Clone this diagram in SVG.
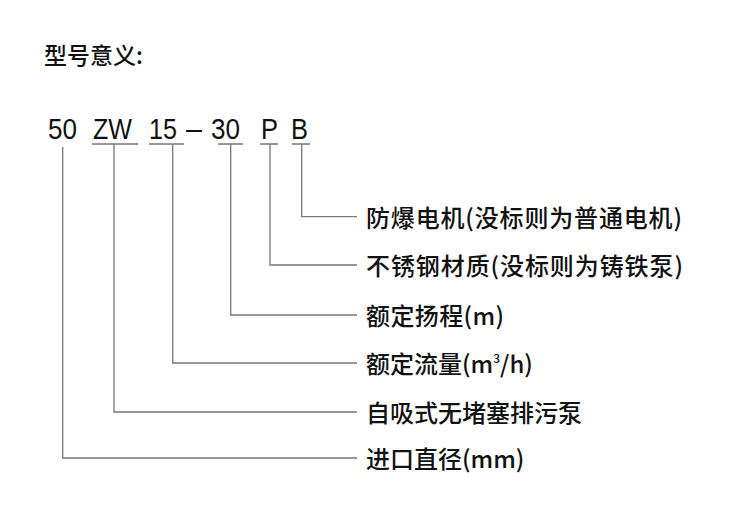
<svg xmlns="http://www.w3.org/2000/svg" width="750" height="528" viewBox="0 0 750 528">
<style>
.t{font-family:"Noto Sans CJK SC","Noto Sans",sans-serif;fill:#111;font-weight:500;}
.lab{font-size:24px;}
.code{font-family:"Liberation Sans",Arial,sans-serif;font-size:29px;fill:#111;}
.ln{fill:none;stroke:#777;stroke-width:1.3;}
</style>
<rect width="750" height="528" fill="#fff"/>
<text class="t" x="44" y="64" font-size="23" font-weight="400">型号意义:</text>
<g id="code">
<text class="code" x="48" y="139" textLength="29" lengthAdjust="spacingAndGlyphs">50</text>
<text class="code" x="93" y="139" textLength="39" lengthAdjust="spacingAndGlyphs">ZW</text>
<text class="code" x="149" y="139" textLength="28" lengthAdjust="spacingAndGlyphs">15</text>
<text class="code" x="186" y="139" textLength="16" lengthAdjust="spacingAndGlyphs">–</text>
<text class="code" x="211" y="139" textLength="29" lengthAdjust="spacingAndGlyphs">30</text>
<text class="code" x="261" y="139" textLength="17" lengthAdjust="spacingAndGlyphs">P</text>
<text class="code" x="291" y="139" textLength="17" lengthAdjust="spacingAndGlyphs">B</text>
</g>
<g id="connectors">
<path class="ln" d="M92 144H138M149 144H184M218 144H243M260 144H278M292 144H310"/>
<path class="ln" d="M301.7 144V216.7H357"/>
<path class="ln" d="M270 144V265H357"/>
<path class="ln" d="M230.7 144V315H357"/>
<path class="ln" d="M172.7 144V363H357"/>
<path class="ln" d="M114 144V412H357"/>
<path class="ln" d="M62.7 147V458H357"/>
</g>
<g id="n-explosion"><text class="t lab" x="366" y="227" textLength="316" lengthAdjust="spacing">防爆电机(没标则为普通电机)</text></g>
<g id="n-material"><text class="t lab" x="366" y="275" textLength="317" lengthAdjust="spacing">不锈钢材质(没标则为铸铁泵)</text></g>
<g id="n-head"><text class="t lab" x="366" y="325" textLength="138" lengthAdjust="spacing">额定扬程(m)</text></g>
<g id="n-flow"><text class="t lab" x="366" y="373">额定流量(m<tspan font-size="12" dy="-10">3</tspan><tspan dy="10">/h)</tspan></text></g>
<g id="n-type"><text class="t lab" x="366" y="422">自吸式无堵塞排污泵</text></g>
<g id="n-inlet"><text class="t lab" x="366" y="468">进口直径(mm)</text></g>
</svg>
